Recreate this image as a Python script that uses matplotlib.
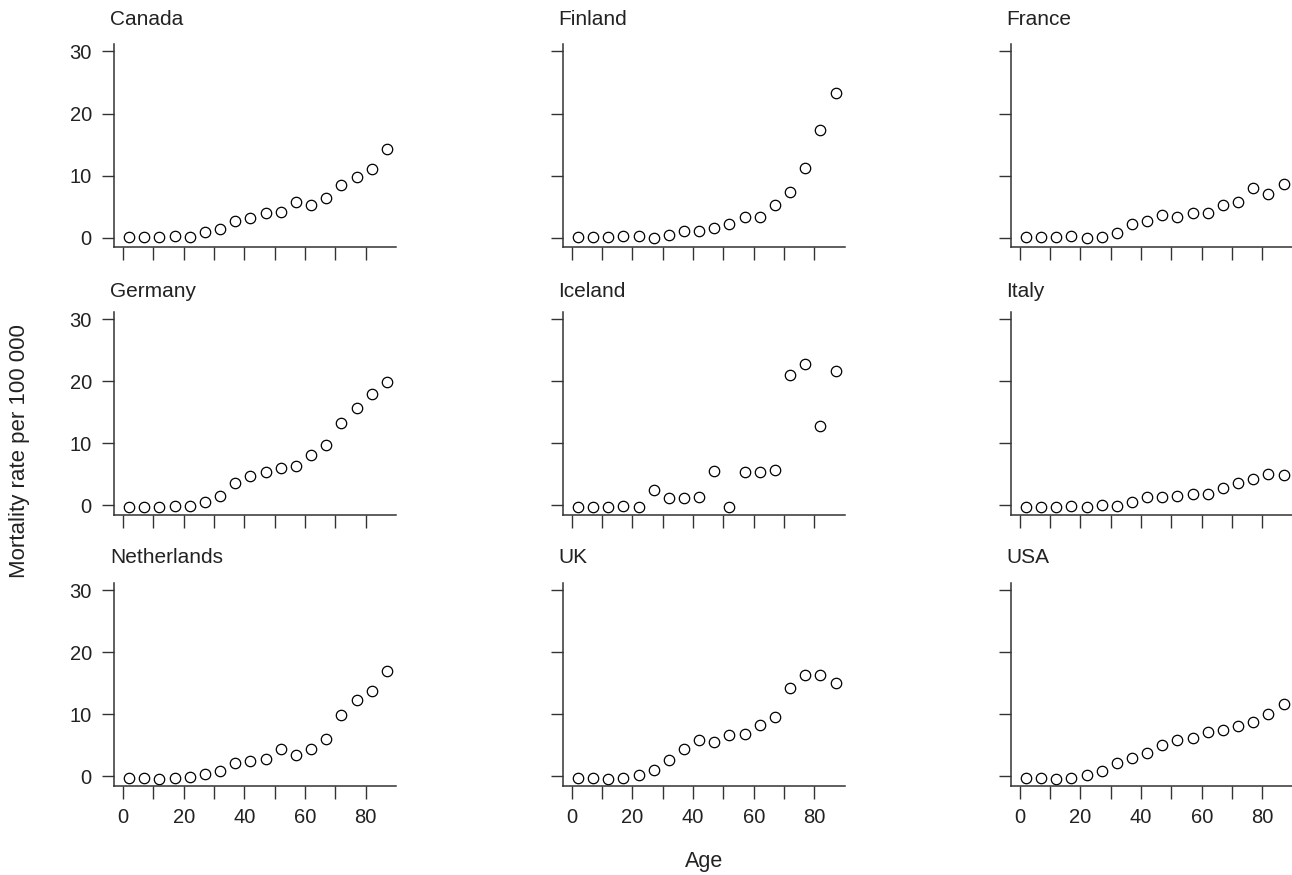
import numpy as np
import matplotlib
matplotlib.use("Agg")
import matplotlib.pyplot as plt

plt.rcParams['font.family'] = ['Liberation Sans', 'DejaVu Sans']

# age group midpoints
ages = [2, 7, 12, 17, 22, 27, 32, 37, 42, 47, 52, 57, 62, 67, 72, 77, 82, 87]

countries = ['Canada', 'Finland', 'France',
             'Germany', 'Iceland', 'Italy',
             'Netherlands', 'UK', 'USA']

canada = [0.1, 0.1, 0.05, 0.2, 0.15, 0.9, 1.4, 2.7, 3.2, 4.0, 4.2, 5.7, 5.3, 6.4, 8.5, 9.8, 11.1, 14.3]
finland = [0.1, 0.1, 0.05, 0.2, 0.2, -0.1, 0.4, 1.1, 1.1, 1.6, 2.2, 3.4, 3.4, 5.2, 7.4, 11.3, 17.3, 23.3]
france = [0.1, 0.1, 0.05, 0.2, -0.1, 0.15, 0.75, 2.2, 2.7, 3.7, 3.4, 4.0, 4.0, 5.2, 5.7, 8.0, 7.1, 8.7]
germany = [-0.2, -0.2, -0.27, -0.15, -0.05, 0.5, 1.5, 3.6, 4.8, 5.3, 6.0, 6.4, 8.1, 9.8, 13.3, 15.7, 18.0, 19.9]
iceland = [-0.2, -0.2, -0.27, -0.15, -0.3, 2.4, 1.2, 1.2, 1.4, 5.5, -0.2, 5.3, 5.4, 5.7, 21.0, 22.8, 12.8, 21.6]
italy = [-0.2, -0.2, -0.27, -0.15, -0.3, 0.05, -0.05, 0.6, 1.35, 1.35, 1.5, 1.9, 1.8, 2.8, 3.6, 4.2, 5.1, 4.9]
netherlands = [-0.27, -0.3, -0.37, -0.27, -0.1, 0.37, 0.9, 2.1, 2.4, 2.8, 4.45, 3.4, 4.45, 6.0, 9.9, 12.3, 13.8, 16.9]
uk = [-0.27, -0.3, -0.37, -0.27, 0.27, 1.0, 2.6, 4.4, 5.8, 5.5, 6.7, 6.8, 8.2, 9.5, 14.2, 16.4, 16.3, 15.1]
usa = [-0.27, -0.3, -0.37, -0.27, 0.2, 0.8, 2.1, 3.0, 3.75, 5.0, 5.8, 6.2, 7.1, 7.5, 8.1, 8.7, 10.0, 11.7]

rates = [canada, finland, france, germany, iceland, italy, netherlands, uk, usa]

W, H = 1292, 875
fig = plt.figure(figsize=(W / 100, H / 100), dpi=100)

col_left = [114, 562.7, 1010.7]
row_top = [44, 311.7, 582.7]
title_gap = [19, 15, 19.5]  # px between axes top and title baseline
ax_w, ax_h = 282, 203
ink = '#222222'

for i, (name, vals) in enumerate(zip(countries, rates)):
    r, c = divmod(i, 3)
    ax = fig.add_axes([col_left[c] / W, 1 - (row_top[r] + ax_h) / H, ax_w / W, ax_h / H])
    ax.plot(ages, vals, 'o', mfc='white', mec='black', ms=7.5, mew=0.9, clip_on=False)
    ax.set_xlim(-3, 90)
    ax.set_ylim(-1.5, 31.2)
    for s in ['top', 'right']:
        ax.spines[s].set_visible(False)
    for s in ['left', 'bottom']:
        ax.spines[s].set_color('#333333')
        ax.spines[s].set_linewidth(1.1)
    ax.set_xticks(range(0, 90, 10))
    ax.set_yticks([0, 10, 20, 30])
    ax.tick_params(length=9, width=1.0, color='#333333', labelsize=14.5, labelcolor=ink)
    ax.tick_params(axis='y', pad=7)
    ax.tick_params(axis='x', pad=7)
    if r == 2:
        ax.set_xticklabels(['0', '', '20', '', '40', '', '60', '', '80'])
    else:
        ax.set_xticklabels([])
    if c != 0:
        ax.set_yticklabels([])
    ax.text(-0.015, 1 + title_gap[r] / ax_h, name, transform=ax.transAxes,
            ha='left', va='baseline', fontsize=15, color=ink)

fig.text(20 / W, 1 - 451 / H, 'Mortality rate per 100 000', rotation=90,
         ha='center', va='center', fontsize=16, color=ink)
fig.text(704 / W, 1 - 862 / H, 'Age', ha='center', va='center', fontsize=15.5, color=ink)

fig.savefig('out.png', dpi=100, facecolor='white')
